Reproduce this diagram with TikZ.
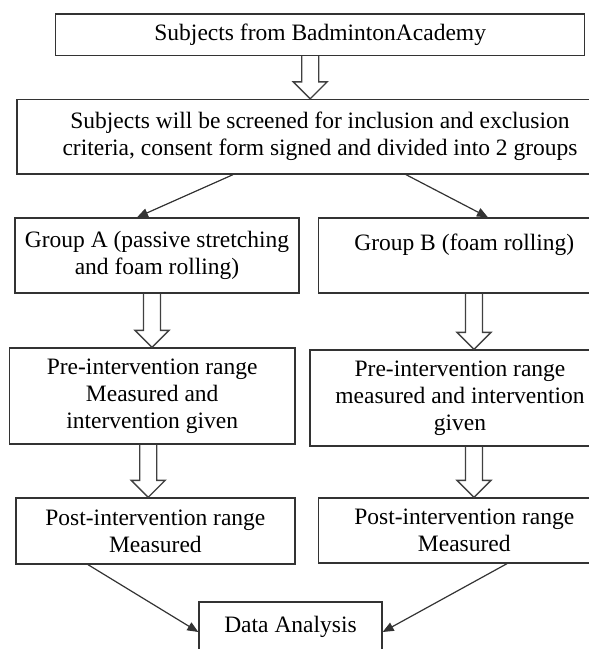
\documentclass[tikz,border=0pt]{standalone}
\usepackage{fontspec}
\setmainfont{Liberation Serif}
\usetikzlibrary{arrows.meta,calc}

% open block arrow: #1 shift from the centre, #2 upper node, #3 lower node
\newcommand{\hollowarrow}[3]{%
  \draw[hollow] let \p1=([xshift=#1]#2.south), \p2=(#3.north) in
    (\x1-8.5pt,\y1) -- (\x1-8.5pt,\y2+17pt) -- (\x1-17pt,\y2+17pt) -- (\x1,\y2)
    -- (\x1+17pt,\y2+17pt) -- (\x1+8.5pt,\y2+17pt) -- (\x1+8.5pt,\y1);}

\begin{document}
\begin{tikzpicture}[x=1pt,y=-1pt,
    box/.style={draw=black!80,line width=1.3pt,align=center,inner sep=0pt,
                font=\fontsize{23.5}{27}\selectfont},
    arr/.style={-{Triangle[length=11pt,width=9pt]},draw=black!80,line width=1.2pt},
    hollow/.style={draw=black!75,line width=1.3pt,line join=miter}
  ]
    \useasboundingbox (0,0) rectangle (589,649);
    \node[box,minimum width=529pt,minimum height=41.5pt] (src) at (320.2,34.75) {Subjects from BadmintonAcademy};
    \node[box,minimum width=606pt,minimum height=74.5pt] (scr) at (320,136.75)
      {Subjects will be screened for inclusion and exclusion\\criteria, consent form signed and divided into 2 groups};
    \node[box,minimum width=284pt,minimum height=75pt] (grpA) at (157,255.5) {Group A (passive stretching\\and foam rolling)};
    \node[box,minimum width=291pt,minimum height=75pt] (grpB) at (464.3,255.5) {Group B (foam rolling)\\\mbox{}};
    \node[box,minimum width=285.6pt,minimum height=96pt] (preA) at (152.2,396) {Pre-intervention range\\Measured and\\intervention given};
    \node[box,minimum width=300pt,minimum height=96pt] (preB) at (460,398) {Pre-intervention range\\measured and intervention\\given};
    \node[box,minimum width=279pt,minimum height=66pt] (postA) at (155.4,531) {Post-intervention range\\Measured};
    \node[box,minimum width=291pt,minimum height=65pt] (postB) at (464.3,530.5) {Post-intervention range\\Measured};
    \node[box,minimum width=183pt,minimum height=50pt] (data) at (290.5,627) {Data Analysis};

    \hollowarrow{-10pt}{src}{scr}
    \hollowarrow{-5pt}{grpA}{preA}
    \hollowarrow{9.7pt}{grpB}{preB}
    \hollowarrow{-4pt}{preA}{postA}
    \hollowarrow{14pt}{preB}{postB}

    \draw[arr] ([xshift=-87pt]scr.south) -- ([xshift=-20pt]grpA.north);
    \draw[arr] ([xshift=86pt]scr.south) -- ([xshift=23.7pt]grpB.north);
    \draw[arr] ([xshift=-67.4pt]postA.south) -- ([yshift=-5pt]data.west);
    \draw[arr] ([xshift=42.7pt]postB.south) -- ([yshift=-5pt]data.east);
\end{tikzpicture}
\end{document}
